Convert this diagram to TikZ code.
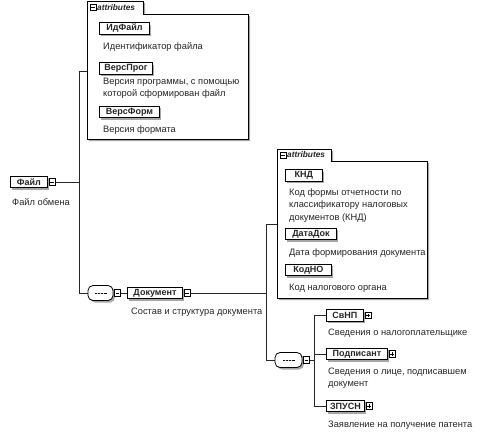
\documentclass[tikz,border=0pt]{standalone}
\usepackage{fontspec}
\setmainfont{Liberation Sans}
\usetikzlibrary{shadows}
\begin{document}
\begin{tikzpicture}[x=1pt,y=-1pt,
  every node/.style={text=black!85},
  shd/.style={general shadow={fill=black!35, shadow xshift=2pt, shadow yshift=-2pt}},
  elem/.style={draw, line width=0.9pt, fill=white, shd,
    font=\bfseries\fontsize{9}{9}\selectfont, inner xsep=1.5pt, inner ysep=0pt,
    minimum height=11.5pt, anchor=west},
  pmbox/.style={draw, line width=0.6pt, fill=white, minimum size=6.5pt, inner sep=0pt, anchor=west},
  minus/.style={pmbox, path picture={\draw[line width=0.5pt]
     ([xshift=1.3pt]path picture bounding box.west) -- ([xshift=-1.3pt]path picture bounding box.east);}},
  plus/.style={pmbox, path picture={\draw[line width=0.5pt]
     ([xshift=1.3pt]path picture bounding box.west) -- ([xshift=-1.3pt]path picture bounding box.east)
     ([yshift=-1.3pt]path picture bounding box.north) -- ([yshift=1.3pt]path picture bounding box.south);}},
  seq/.style={draw, line width=0.8pt, fill=white, shd, rounded corners=5pt,
    minimum height=15pt, inner sep=0pt,
    path picture={\draw[line width=0.5pt] ([xshift=-6pt]path picture bounding box.center) -- ([xshift=6pt]path picture bounding box.center);
      \foreach \d in {-3,0,3}{\fill ([xshift=\d pt]path picture bounding box.center) circle (0.9pt);}}},
  attr/.style={draw, line width=0.8pt, fill=white, shd},
  tabtxt/.style={anchor=west, inner sep=0pt, font=\bfseries\itshape\fontsize{8.3}{8.5}\selectfont},
  desc/.style={anchor=west, inner sep=0pt, align=left, font=\fontsize{9.3}{12.3}\selectfont},
  conn/.style={line width=0.7pt, draw=black!85}
]
\useasboundingbox (0,0) rectangle (485,436);

% ---------- attribute box 1 ----------
\path[attr] (87,1) -- (143,1) -- (143,14) -- (248,14) -- (248,139) -- (87,139) -- cycle;
\node[minus, minimum size=6pt] (t1m) at (89.5,7.5) {};
\node[tabtxt] (t1) at (97,7.5) {attributes};
\node[elem, minimum width=50pt] (idf) at (99,28.5) {ИдФайл};
\node[desc] (idfd) at (103,47) {Идентификатор файла};
\node[elem, minimum width=53pt] (vprog) at (99,68.5) {ВерсПрог};
\node[desc] (vprogd) at (103,88) {Версия программы, с помощью\\которой сформирован файл};
\node[elem, minimum width=60pt] (vform) at (99,112) {ВерсФорм};
\node[desc] (vformd) at (103,130) {Версия формата};

% ---------- root ----------
\node[elem, minimum width=37pt] (fajl) at (10,182) {Файл};
\node[minus] (fajlpm) at ([xshift=0.8pt]fajl.east) {};
\node[desc] (fajld) at (12,202) {Файл обмена};

\coordinate (v1top) at (79,71);
\coordinate (v1mid) at (79,182);
\coordinate (v1bot) at (79,293);
\coordinate (a1) at (87,71);
\draw[conn] (v1top) -- (v1bot);
\draw[conn] (v1top) -- (a1);
\draw[conn] (fajlpm.east) -- (v1mid);

% ---------- sequence 1 / Документ ----------
\node[seq, minimum width=25pt] (seq1) at (100.5,293) {};
\node[minus] (seq1pm) at ([xshift=0.5pt]seq1.east) {};
\draw[conn] (v1bot) -- (seq1.west);
\node[elem, minimum width=55pt] (dok) at (127,293) {Документ};
\draw[conn] (seq1pm.east) -- (dok.west);
\node[minus] (dokpm) at ([xshift=0.8pt]dok.east) {};
\node[desc] (dokd) at (131,312) {Состав и структура документа};

\coordinate (v2top) at (266,224);
\coordinate (v2mid) at (266,293);
\coordinate (v2bot) at (266,360);
\coordinate (a2) at (277,224);
\draw[conn] (dokpm.east) -- (v2mid);
\draw[conn] (v2top) -- (v2bot);
\draw[conn] (v2top) -- (a2);

% ---------- attribute box 2 ----------
\path[attr] (277,149) -- (331,149) -- (331,161) -- (427,161) -- (427,298) -- (277,298) -- cycle;
\node[minus, minimum size=6pt] (t2m) at (279.5,155) {};
\node[tabtxt] (t2) at (287,155) {attributes};
\node[elem, minimum width=37pt] (knd) at (285,175.5) {КНД};
\node[desc, font=\fontsize{9.3}{12.5}\selectfont] (kndd) at (289,205.5) {Код формы отчетности по\\классификатору налоговых\\документов (КНД)};
\node[elem, minimum width=51pt] (datadok) at (285,234) {ДатаДок};
\node[desc] (datadokd) at (289,253) {Дата формирования документа};
\node[elem, minimum width=46pt] (kodno) at (285,270) {КодНО};
\node[desc] (kodnod) at (289,288) {Код налогового органа};

% ---------- sequence 2 ----------
\node[seq, minimum width=27pt] (seq2) at (288.5,360) {};
\node[minus] (seq2pm) at ([xshift=0.5pt]seq2.east) {};
\draw[conn] (v2bot) -- (seq2.west);
\coordinate (v3mid) at (314,360);
\coordinate (v3top) at (314,315.5);
\coordinate (v3b) at (314,354);
\coordinate (v3bot) at (314,406);
\draw[conn] (seq2pm.east) -- (v3mid);
\draw[conn] (v3top) -- (v3bot);

\node[elem, minimum width=37pt] (svnp) at (326,315.5) {СвНП};
\node[plus] (svnppm) at ([xshift=0.8pt]svnp.east) {};
\node[desc] (svnpd) at (328,333) {Сведения о налогоплательщике};
\node[elem, minimum width=61pt] (podp) at (326,354) {Подписант};
\node[plus] (podppm) at ([xshift=0.8pt]podp.east) {};
\node[desc] (podpd) at (328,378.5) {Сведения о лице, подписавшем\\документ};
\node[elem, minimum width=38pt] (zpusn) at (326,406) {ЗПУСН};
\node[plus] (zpusnpm) at ([xshift=0.8pt]zpusn.east) {};
\node[desc] (zpusnd) at (328,425) {Заявление на получение патента};

\draw[conn] (v3top) -- (svnp.west);
\draw[conn] (v3b) -- (podp.west);
\draw[conn] (v3bot) -- (zpusn.west);
\end{tikzpicture}
\end{document}
